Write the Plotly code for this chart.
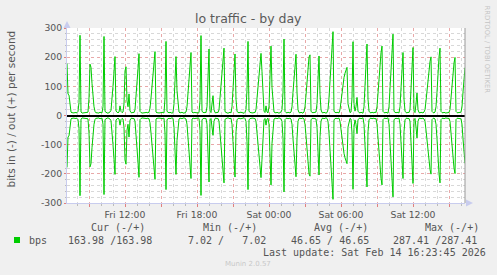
import pandas as pd
import plotly.graph_objects as go

# ---------------- data ----------------
start_time = "2026-02-13 07:10"
step_minutes = 5
bps_values = [
    178, 73, 70, 35, 12, 9, 10, 8, 11, 9,
    10, 14, 45, 275, 12, 9, 8, 10, 9, 11,
    10, 12, 60, 176, 165, 110, 60, 30, 14, 9,
    10, 8, 9, 11, 10, 9, 30, 271, 14, 10,
    9, 8, 10, 12, 18, 50, 100, 150, 202, 15,
    10, 9, 12, 33, 14, 10, 12, 40, 153, 167,
    50, 30, 74, 16, 10, 9, 11, 10, 20, 60,
    110, 160, 212, 14, 10, 9, 8, 10, 9, 11,
    10, 9, 12, 25, 60, 100, 150, 190, 219, 12,
    9, 10, 8, 10, 9, 11, 10, 9, 60, 254,
    14, 10, 9, 11, 10, 8, 10, 40, 120, 202,
    85, 30, 12, 9, 10, 11, 9, 8, 10, 12,
    30, 80, 140, 185, 216, 12, 9, 10, 11, 9,
    10, 8, 10, 50, 274, 14, 10, 9, 11, 10,
    30, 120, 228, 15, 10, 40, 68, 20, 10, 9,
    11, 10, 20, 60, 110, 160, 200, 231, 13, 10,
    9, 8, 10, 11, 9, 30, 90, 150, 211, 56,
    15, 10, 9, 10, 12, 9, 10, 7.02, 11, 20,
    90, 254, 14, 10, 9, 10, 8, 11, 10, 20,
    60, 110, 160, 195, 213, 150, 60, 15, 10, 33,
    12, 9, 30, 120, 238, 96, 30, 12, 10, 9,
    11, 10, 8, 10, 12, 20, 80, 262, 14, 10,
    9, 11, 10, 9, 12, 30, 80, 130, 180, 210,
    79, 20, 10, 9, 11, 10, 8, 12, 30, 70,
    120, 170, 200, 208, 15, 10, 9, 10, 11, 12,
    40, 130, 204, 73, 20, 10, 9, 11, 10, 8,
    10, 20, 60, 120, 180, 240, 287.41, 14, 10, 9,
    11, 10, 9, 20, 50, 80, 110, 130, 145, 155,
    165, 40, 20, 10, 12, 60, 253, 40, 15, 30,
    62, 15, 10, 9, 11, 10, 8, 30, 120, 200,
    245, 56, 15, 10, 9, 11, 10, 9, 12, 10,
    30, 80, 130, 180, 215, 238, 14, 10, 9, 11,
    10, 8, 30, 100, 180, 240, 279, 14, 10, 9,
    11, 10, 9, 30, 100, 170, 216, 56, 15, 10,
    9, 11, 10, 20, 80, 160, 233, 15, 10, 40,
    77, 20, 10, 9, 11, 10, 9, 12, 20, 50,
    90, 130, 160, 185, 201, 14, 10, 9, 12, 30,
    80, 150, 200, 231, 14, 10, 9, 11, 10, 8,
    10, 9, 11, 20, 60, 110, 150, 180, 199, 14,
    10, 9, 11, 10, 12, 30, 80, 130, 163.98,
]
x_tick_times = ["2026-02-13 09:00", "2026-02-13 12:00", "2026-02-13 15:00",
                "2026-02-13 18:00", "2026-02-13 21:00", "2026-02-14 00:00",
                "2026-02-14 03:00", "2026-02-14 06:00", "2026-02-14 09:00",
                "2026-02-14 12:00", "2026-02-14 15:00"]
x_tick_labels = ["", "Fri 12:00", "", "Fri 18:00", "", "Sat 00:00",
                 "", "Sat 06:00", "", "Sat 12:00", ""]
y_tick_vals = [-300, -200, -100, 0, 100, 200, 300]
y_tick_labels = ["-300", "-200", "-100", "0", "100", "200", "300"]
series_name = "bps"
cur_val, min_val, avg_val, max_val = 163.98, 7.02, 46.65, 287.41
last_update = "Sat Feb 14 16:23:45 2026"

times = pd.date_range(start_time, periods=len(bps_values), freq=f"{step_minutes}min")

# ---------------- geometry helpers (pixel -> paper) ----------------
W, H = 497, 275
L, R, T, B = 67, 465, 28, 203


def px(x):
    return (x - L) / (R - L)


def py(y):
    return (B - y) / (B - T)


GREEN = "#00CC00"
TXT = "#555555"
MONO = "DejaVu Sans Mono"
SANS = "DejaVu Sans"

fig = go.Figure()
fig.add_trace(go.Scatter(x=times, y=bps_values, mode="lines",
                         line=dict(color=GREEN, width=1), hoverinfo="skip"))
fig.add_trace(go.Scatter(x=times, y=[-v for v in bps_values], mode="lines",
                         line=dict(color=GREEN, width=1), hoverinfo="skip"))

fig.update_layout(
    width=W, height=H,
    margin=dict(l=L, r=W - R, t=T, b=H - B),
    paper_bgcolor="#F0F0F0", plot_bgcolor="#FFFFFF",
    showlegend=False,
    font=dict(family=SANS, color=TXT),
)

fig.update_xaxes(
    type="date", range=[times[0], times[-1]],
    tickvals=x_tick_times, ticktext=x_tick_labels,
    tickfont=dict(size=9.3, color=TXT, family=SANS),
    ticks="outside", ticklen=3, tickcolor="#E08080",
    showgrid=True, gridcolor="#E8A8A8", griddash="dot", gridwidth=1,
    minor=dict(dtick=3600000, tick0="2026-02-13 00:00", showgrid=True,
               gridcolor="#D8D8D8", griddash="dot", ticks="outside",
               ticklen=2, tickcolor="#BBBBBB"),
    showline=True, linecolor="#C8CCEE", linewidth=1,
    zeroline=False, fixedrange=True,
)
fig.update_yaxes(
    range=[-300, 300],
    tickvals=y_tick_vals, ticktext=y_tick_labels,
    tickfont=dict(size=9.3, color=TXT, family=SANS),
    ticks="outside", ticklen=2, tickcolor="#E08080",
    showgrid=True, gridcolor="#E8A8A8", griddash="dot", gridwidth=1,
    minor=dict(dtick=20, showgrid=True, gridcolor="#D8D8D8", griddash="dot",
               ticks="outside", ticklen=1, tickcolor="#BBBBBB"),
    showline=True, linecolor="#C8CCEE", linewidth=1,
    zeroline=True, zerolinecolor="#000000", zerolinewidth=1.5,
    fixedrange=True,
)

shapes = [
    # right edge rule
    dict(type="line", xref="paper", yref="paper", x0=1, x1=1, y0=0, y1=1,
         line=dict(color="#999999", width=1)),
    # axis arrows
    dict(type="path", xref="paper", yref="paper",
         path=f"M {px(63.5)} {py(28)} L {px(70.5)} {py(28)} L {px(67)} {py(21)} Z",
         fillcolor="#C8CCEE", line=dict(width=0)),
    dict(type="path", xref="paper", yref="paper",
         path=f"M {px(466)} {py(199.5)} L {px(466)} {py(206.5)} L {px(473)} {py(203)} Z",
         fillcolor="#C8CCEE", line=dict(width=0)),
    # legend colour box
    dict(type="rect", xref="paper", yref="paper",
         x0=px(14), x1=px(20), y0=py(243), y1=py(237),
         fillcolor=GREEN, line=dict(width=0)),
]
fig.update_layout(shapes=shapes)


def ann(text, x, y, size, color=TXT, family=SANS, xanchor="left", angle=0):
    fig.add_annotation(text=text, x=px(x), y=py(y), xref="paper", yref="paper",
                       showarrow=False, xanchor=xanchor, yanchor="middle",
                       textangle=angle, font=dict(size=size, color=color, family=family))


nb = "\u00a0"
ann("lo traffic - by day", 248.5, 18.5, 12.5, color="#5A5A5A", xanchor="center")
ann("bits in (-) / out (+) per second", 10, 109.5, 10.5, xanchor="center", angle=-90)
ann("RRDTOOL / TOBI OETIKER", 486.5, 49, 6.8, color="#C4C4C4", xanchor="center", angle=90)

ann(f"Cur{nb}(-/+)", 89.3, 227.5, 10, family=MONO)
ann(f"Min{nb}(-/+)", 201, 227.5, 10, family=MONO)
ann(f"Avg{nb}(-/+)", 312, 227.5, 10, family=MONO)
ann(f"Max{nb}(-/+)", 422.7, 227.5, 10, family=MONO)

ann(series_name, 27, 240, 10, family=MONO)
ann(f"{cur_val:.2f}{nb}/{cur_val:.2f}", 66.3, 240, 10, family=MONO)
ann(f"{min_val:.2f}{nb}/{nb}{nb}{nb}{min_val:.2f}", 185.7, 240, 10, family=MONO)
ann(f"{avg_val:.2f}{nb}/{nb}{avg_val:.2f}", 289, 240, 10, family=MONO)
ann(f"{max_val:.2f}{nb}/{max_val:.2f}", 391, 240, 10, family=MONO)
ann(f"Last{nb}update:{nb}{last_update.replace(' ', nb)}", 261.3, 252, 10, family=MONO)
ann("Munin 2.0.57", 248, 264, 7, color="#C8C8C8", xanchor="center")

fig.write_html("out.html")
